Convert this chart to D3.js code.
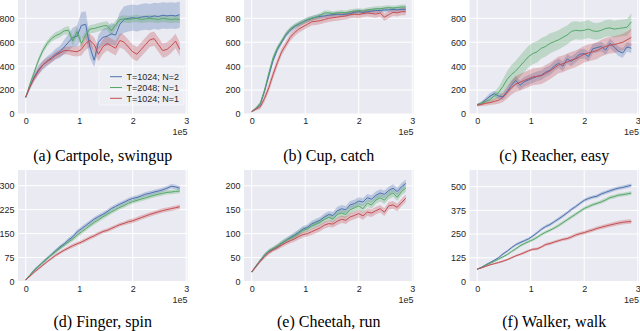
<!DOCTYPE html>
<html>
<head>
<meta charset="utf-8">
<script src="https://cdn.jsdelivr.net/npm/d3@7"></script>
<style>
  body { margin: 0; background: #fff; }
  svg { display: block; }
</style>
</head>
<body>
<script>
// data (x in units of 1e5 env steps)
var steps = [0, 0.08, 0.16, 0.24, 0.32, 0.40, 0.48, 0.56, 0.64, 0.72, 0.80, 0.88, 0.96, 1.04, 1.12, 1.20, 1.28, 1.36, 1.44,
  1.52, 1.60, 1.68, 1.76, 1.84, 1.92, 2.00, 2.08, 2.16, 2.24, 2.32, 2.40, 2.48, 2.56, 2.64, 2.72, 2.80, 2.88];

var seriesNames = ['T=1024; N=2', 'T=2048; N=1', 'T=1024; N=1'];
var seriesColors = ['#4C72B0', '#55A868', '#C44E52'];
var captions = ['(a) Cartpole, swingup', '(b) Cup, catch', '(c) Reacher, easy',
  '(d) Finger, spin', '(e) Cheetah, run', '(f) Walker, walk'];
var xTickValues = [0, 1, 2, 3];
var yTicksTop = [0, 200, 400, 600, 800];
var yTicksFinger = [0, 75, 150, 225, 300];
var yTicksCheetah = [0, 50, 100, 150, 200];
var yTicksWalker = [0, 125, 250, 375, 500];

// (a) cartpole
var cartBlue = [140,230,310,370,410,440,470,500,520,560,600,640,650,740,750,560,450,600,640,650,670,660,750,790,800,805,800,810,815,810,820,815,825,820,825,820,830];
var cartBlueSd = [10,25,35,40,40,40,40,45,50,60,70,80,90,110,110,90,60,60,70,80,90,90,100,110,110,110,110,110,110,110,110,110,110,110,110,110,110];
var cartGreen = [140,250,350,450,530,590,630,655,670,695,700,610,690,590,660,710,715,725,735,740,695,745,790,795,790,795,800,790,795,800,795,790,800,795,790,795,790];
var cartGreenSd = [10,20,25,25,25,25,25,30,30,30,35,40,40,40,35,35,35,35,35,35,40,35,30,30,30,30,30,30,30,30,30,30,30,30,30,30,30];
var cartRed = [140,230,300,360,410,440,460,490,510,530,530,525,520,540,590,615,580,500,560,590,570,550,615,600,560,520,500,540,580,620,630,580,530,540,570,610,540];
var cartRedSd = [10,20,25,30,30,30,30,30,30,30,35,40,40,50,55,55,60,60,60,60,60,60,60,60,60,60,60,60,60,60,60,60,60,60,60,60,60];

// (b) cup
var cupBlue = [20,45,80,190,320,450,540,600,660,700,730,750,770,785,800,810,815,820,825,830,835,830,835,840,850,855,850,855,860,865,865,870,870,875,870,875,875];
var cupBlueSd = [5,10,15,20,25,25,25,20,20,20,20,20,20,20,20,20,20,20,20,20,20,20,20,20,20,20,20,20,20,20,20,20,20,20,20,20,20];
var cupGreen = [20,50,90,200,340,470,550,610,670,710,735,755,770,790,800,810,825,845,845,840,845,850,845,855,860,865,860,870,875,880,880,885,890,885,890,895,895];
var cupGreenSd = [5,10,15,20,25,25,25,20,20,20,20,20,20,20,20,20,20,20,20,20,20,20,20,20,20,20,20,20,20,20,20,20,20,20,20,20,20];
var cupRed = [20,40,60,130,220,330,430,520,580,640,680,710,730,750,770,775,780,790,800,805,810,815,820,830,835,830,840,845,840,835,845,810,830,850,845,855,855];
var cupRedSd = [5,10,20,30,35,35,35,30,30,30,30,30,30,30,30,30,30,30,30,30,30,30,30,30,30,30,30,30,30,30,30,30,30,30,30,30,30];

// (c) reacher
var reachBlue = [75,90,120,150,170,150,145,190,240,280,240,270,285,300,315,325,350,365,400,425,400,460,440,470,500,505,480,545,555,565,535,590,560,525,510,560,550];
var reachBlueSd = [10,15,20,25,25,25,25,30,35,40,40,40,40,40,40,40,40,40,40,40,40,40,40,40,40,40,40,40,40,40,40,40,40,40,40,40,40];
var reachGreen = [75,90,105,120,150,180,230,290,330,360,400,440,480,505,520,550,565,590,605,620,640,660,690,700,695,700,710,695,690,700,715,720,710,715,720,725,770];
var reachGreenSd = [10,15,20,25,35,45,60,70,80,85,90,90,90,90,90,85,85,85,80,80,80,80,80,75,75,75,75,70,70,70,70,70,70,70,70,70,70];
var reachRed = [75,80,90,95,105,115,140,180,220,250,265,280,295,310,315,320,340,360,385,410,420,435,450,460,480,500,510,520,530,550,565,575,580,590,600,620,640];
var reachRedSd = [10,15,20,20,25,30,40,50,60,65,70,70,70,70,70,70,70,70,70,70,70,70,70,70,70,70,70,70,70,70,70,70,70,70,70,70,70];

// (d) finger
var fingBlue = [5,20,35,48,60,72,84,96,108,118,130,140,155,165,175,185,195,203,210,218,228,235,242,248,255,260,263,268,273,276,280,283,287,292,298,296,292];
var fingBlueSd = [2,3,4,4,5,5,5,6,6,6,7,7,7,7,7,7,7,7,7,7,7,7,7,7,7,7,7,7,7,7,7,7,7,7,7,7,7];
var fingGreen = [5,20,36,48,60,72,83,94,104,114,124,133,145,155,165,175,185,193,202,210,218,225,232,238,245,250,254,258,262,266,270,273,276,279,280,282,283];
var fingGreenSd = [2,3,4,4,5,5,5,6,6,6,7,7,7,7,7,7,7,7,7,7,7,7,7,7,7,7,7,7,7,7,7,7,7,7,7,7,7];
var fingRed = [5,17,29,40,51,62,72,82,90,98,105,112,118,123,130,137,143,150,156,160,166,172,178,182,187,190,195,200,205,210,214,218,222,225,228,231,234];
var fingRedSd = [2,3,3,4,4,4,5,5,5,5,6,6,6,6,6,6,6,6,6,6,6,6,6,6,7,7,7,7,7,7,7,7,7,7,7,7,7];

// (e) cheetah
var cheeBlue = [20,32,44,55,63,68,73,80,86,92,97,103,110,113,120,124,128,135,140,138,148,152,150,160,163,168,166,175,172,180,185,182,190,195,188,198,205];
var cheeBlueSd = [2,3,3,4,4,4,5,5,5,5,6,6,6,6,7,7,7,7,7,7,8,8,8,8,8,8,8,8,8,8,8,8,8,8,8,8,8];
var cheeGreen = [20,32,44,55,64,69,74,80,86,90,95,101,107,110,116,120,124,130,134,130,140,143,140,150,154,158,152,164,160,170,175,170,180,185,176,188,195];
var cheeGreenSd = [2,3,3,4,4,4,5,5,5,5,6,6,6,6,7,7,7,7,7,7,8,8,8,8,8,8,8,8,8,8,8,8,8,8,8,8,8];
var cheeRed = [20,31,42,52,60,66,71,76,81,85,89,94,98,100,104,108,112,118,121,120,126,130,128,135,138,142,137,145,143,148,152,145,158,160,155,165,174];
var cheeRedSd = [2,3,3,4,4,4,5,5,5,5,6,6,6,6,7,7,7,7,7,7,8,8,8,8,8,8,8,8,8,8,8,8,8,8,8,8,8];

// (f) walker
var walkBlue = [65,75,88,100,112,126,145,160,178,194,205,215,225,240,257,275,290,300,315,330,345,362,380,395,412,428,438,445,450,462,470,478,486,492,496,502,507];
var walkBlueSd = [2,3,4,4,5,5,6,6,6,7,7,7,7,8,8,8,8,8,8,9,9,9,9,9,9,9,9,9,9,10,10,10,10,10,10,10,10];
var walkGreen = [65,73,85,96,106,118,130,142,158,172,188,200,210,220,233,248,260,270,282,295,310,325,340,355,370,385,395,405,412,420,430,442,448,455,458,462,466];
var walkGreenSd = [2,3,4,4,5,5,6,6,6,7,7,7,7,8,8,8,8,8,8,9,9,9,9,9,9,9,9,9,9,10,10,10,10,10,10,10,10];
var walkRed = [65,72,80,88,94,100,107,115,125,135,143,152,162,170,172,182,195,200,208,215,222,226,235,245,252,258,265,272,280,286,292,298,303,308,312,315,316];
var walkRedSd = [2,3,3,4,4,5,5,5,6,6,6,7,7,7,7,7,8,8,8,8,8,9,9,9,9,10,10,10,10,11,11,11,12,12,12,12,12];

// panel table built from the arrays above
var panels = [
  { yTicks: yTicksTop, yMax: 953, series: [[cartBlue, cartBlueSd], [cartGreen, cartGreenSd], [cartRed, cartRedSd]], legend: true },
  { yTicks: yTicksTop, yMax: 953, series: [[cupBlue, cupBlueSd], [cupGreen, cupGreenSd], [cupRed, cupRedSd]] },
  { yTicks: yTicksTop, yMax: 953, series: [[reachBlue, reachBlueSd], [reachGreen, reachGreenSd], [reachRed, reachRedSd]] },
  { yTicks: yTicksFinger, yMax: 349, series: [[fingBlue, fingBlueSd], [fingGreen, fingGreenSd], [fingRed, fingRedSd]] },
  { yTicks: yTicksCheetah, yMax: 233, series: [[cheeBlue, cheeBlueSd], [cheeGreen, cheeGreenSd], [cheeRed, cheeRedSd]] },
  { yTicks: yTicksWalker, yMax: 588, series: [[walkBlue, walkBlueSd], [walkGreen, walkGreenSd], [walkRed, walkRedSd]] }
];

// ----------------------------------------------------------------------------
// layout
var colLeft = [18, 244, 469.5];
var plotW = 169.5;
var rowTop = [0, 170];
var rowBottom = [114, 281.5];
var captionY = [161, 327];
var xLimits = [-0.144, 3.024];
var bg = '#EAEAF2';
var sans = 'Liberation Sans, Arial, sans-serif';

var svg = d3.select('body').append('svg')
  .attr('width', 640)
  .attr('height', 331);

panels.forEach(function (p, i) {
  var col = i % 3, row = Math.floor(i / 3);
  var left = colLeft[col], top = rowTop[row], bottom = rowBottom[row];

  var x = d3.scaleLinear().domain(xLimits).range([left, left + plotW]);
  var y = d3.scaleLinear().domain([0, p.yMax]).range([bottom, top]);

  var g = svg.append('g');

  g.append('rect')
    .attr('x', left).attr('y', top)
    .attr('width', plotW).attr('height', bottom - top)
    .attr('fill', bg);

  // grid
  g.selectAll('.gx').data(xTickValues).enter().append('line')
    .attr('x1', function (d) { return x(d); }).attr('x2', function (d) { return x(d); })
    .attr('y1', top).attr('y2', bottom)
    .attr('stroke', '#fff').attr('stroke-width', 1);
  g.selectAll('.gy').data(p.yTicks).enter().append('line')
    .attr('x1', left).attr('x2', left + plotW)
    .attr('y1', function (d) { return y(d); }).attr('y2', function (d) { return y(d); })
    .attr('stroke', '#fff').attr('stroke-width', 1);

  var clipId = 'clip' + i;
  svg.append('clipPath').attr('id', clipId).append('rect')
    .attr('x', left).attr('y', top)
    .attr('width', plotW).attr('height', bottom - top);

  var marks = g.append('g').attr('clip-path', 'url(#' + clipId + ')');

  var area = d3.area()
    .x(function (d, j) { return x(steps[j]); })
    .y0(function (d) { return y(d[0] - d[1]); })
    .y1(function (d) { return y(d[0] + d[1]); })
    .curve(d3.curveLinear);
  var line = d3.line()
    .x(function (d, j) { return x(steps[j]); })
    .y(function (d) { return y(d); });

  p.series.forEach(function (s, k) {
    var pts = s[0].map(function (v, j) { return [v, s[1][j]]; });
    marks.append('path')
      .attr('d', area(pts))
      .attr('fill', seriesColors[k])
      .attr('fill-opacity', 0.3);
  });
  p.series.forEach(function (s, k) {
    marks.append('path')
      .attr('d', line(s[0]))
      .attr('fill', 'none')
      .attr('stroke', seriesColors[k])
      .attr('stroke-width', 1);
  });

  // axes
  var yAxis = g.append('g')
    .attr('transform', 'translate(' + left + ',0)')
    .call(d3.axisLeft(y).tickValues(p.yTicks).tickSize(0).tickPadding(3.5));
  var xAxis = g.append('g')
    .attr('transform', 'translate(0,' + bottom + ')')
    .call(d3.axisBottom(x).tickValues(xTickValues).tickSize(0).tickPadding(4).tickFormat(d3.format('d')));
  [yAxis, xAxis].forEach(function (a) {
    a.select('.domain').remove();
    a.selectAll('text')
      .attr('fill', '#262626')
      .style('font-family', sans)
      .style('font-size', '9px');
  });

  g.append('text')
    .attr('x', left + plotW)
    .attr('y', bottom + 21)
    .attr('text-anchor', 'end')
    .attr('fill', '#262626')
    .style('font-family', sans)
    .style('font-size', '9px')
    .text('1e5');

  g.append('text')
    .attr('x', left + plotW / 2)
    .attr('y', captionY[row])
    .attr('text-anchor', 'middle')
    .attr('fill', '#000')
    .style('font-family', 'Liberation Serif, Times New Roman, serif')
    .style('font-size', '16px')
    .text(captions[i]);

  if (p.legend) {
    var lg = g.append('g');
    lg.append('rect')
      .attr('x', left + 81).attr('y', 67)
      .attr('width', 85).attr('height', 38)
      .attr('rx', 2)
      .attr('fill', '#fff').attr('fill-opacity', 0.18)
      .attr('stroke', '#fff').attr('stroke-opacity', 0.5);
    seriesNames.forEach(function (name, k) {
      var ly = 76.7 + k * 10.8;
      lg.append('line')
        .attr('x1', left + 92).attr('x2', left + 104)
        .attr('y1', ly).attr('y2', ly)
        .attr('stroke', seriesColors[k]).attr('stroke-width', 1);
      lg.append('text')
        .attr('x', left + 108.5).attr('y', ly + 3.2)
        .attr('fill', '#262626')
        .style('font-family', sans)
        .style('font-size', '9px')
        .text(name);
    });
  }
});
</script>
</body>
</html>
